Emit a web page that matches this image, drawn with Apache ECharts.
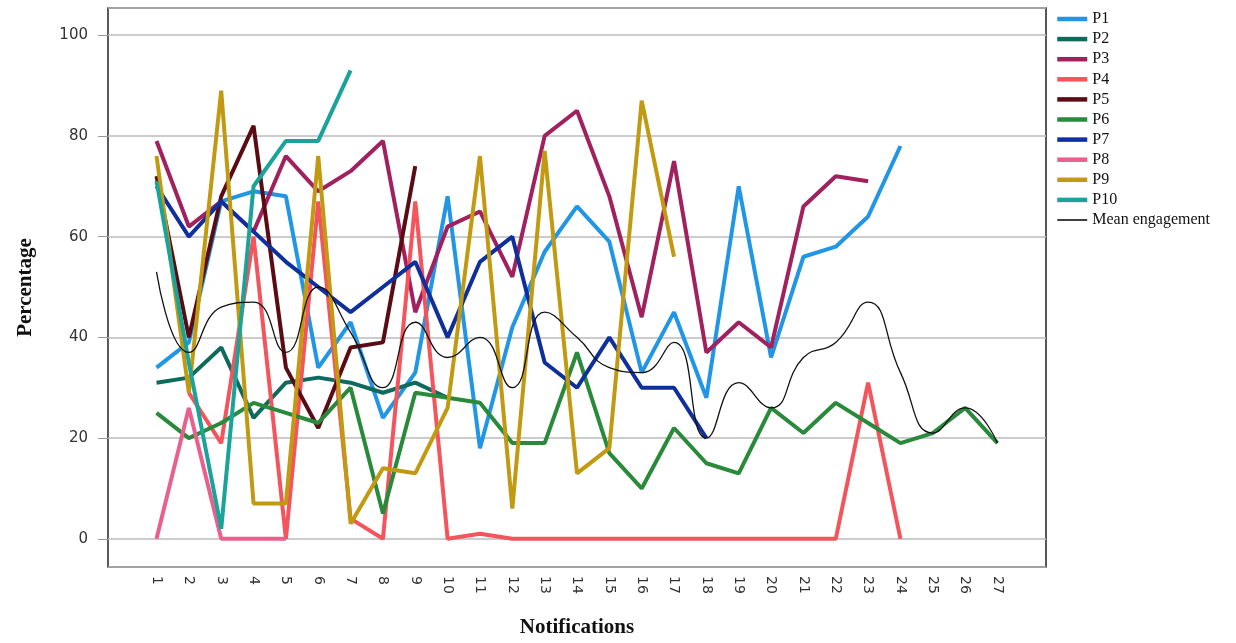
<!DOCTYPE html>
<html>
<head>
<meta charset="utf-8">
<script src="https://cdn.jsdelivr.net/npm/echarts@6/dist/echarts.min.js"></script>
<style>
html,body{margin:0;padding:0;background:#fff;}
#chart{width:1236px;height:643px;}
</style>
</head>
<body>
<div id="chart"></div>
<script>
// Categories (notification numbers)
const categories = ['1','2','3','4','5','6','7','8','9','10','11','12','13','14','15','16','17','18','19','20','21','22','23','24','25','26','27'];
const yTicks = [0, 20, 40, 60, 80, 100];

const P1 = [34,39,67,69,68,34,43,24,33,68,18,42,57,66,59,33,45,28,70,36,56,58,64,78,null,null,null];
const P2 = [31,32,38,24,31,32,31,29,31,28,null,null,null,null,null,null,null,null,null,null,null,null,null,null,null,null,null];
const P3 = [79,62,67,61,76,69,73,79,45,62,65,52,80,85,68,44,75,37,43,38,66,72,71,null,null,null,null];
const P4 = [null,29,19,60,0,67,4,0,67,0,1,0,0,0,0,0,0,0,0,0,0,0,31,0,null,null,null];
const P5 = [72,40,68,82,34,22,38,39,74,null,null,null,null,null,null,null,null,null,null,null,null,null,null,null,null,null,null];
const P6 = [25,20,23,27,25,23,30,5,29,28,27,19,19,37,17,10,22,15,13,26,21,27,23,19,21,26,19];
const P7 = [70,60,67,61,55,50,45,50,55,40,55,60,35,30,40,30,30,20,null,null,null,null,null,null,null,null,null];
const P8 = [0,26,0,0,0,null,null,null,null,null,null,null,null,null,null,null,null,null,null,null,null,null,null,null,null,null,null];
const P9 = [76,29,89,7,7,76,3,14,13,26,76,6,77,13,18,87,56,null,null,null,null,null,null,null,null,null,null];
const P10 = [71,35,2,70,79,79,93,null,null,null,null,null,null,null,null,null,null,null,null,null,null,null,null,null,null,null,null];
const meanEngagement = [53,37,46,47,37,50,41,30,43,36,40,30,45,40,34,33,39,20,31,26,36,39,47,33,21,26,19];

const seriesDefs = [
  {name:'P1', data:P1, color:'#2196e6'},
  {name:'P2', data:P2, color:'#0e6a5d'},
  {name:'P3', data:P3, color:'#a0215d'},
  {name:'P4', data:P4, color:'#f4555c'},
  {name:'P5', data:P5, color:'#5a0b14'},
  {name:'P6', data:P6, color:'#2a8a3c'},
  {name:'P7', data:P7, color:'#0f309c'},
  {name:'P8', data:P8, color:'#ea5f8e'},
  {name:'P9', data:P9, color:'#c19a12'},
  {name:'P10', data:P10, color:'#19a39a'}
];

// pad category axis with blank slots on both sides
const axisCats = [''].concat(categories, ['']);
const pad = arr => [null].concat(arr, [null]);

const series = seriesDefs.map(s => ({
  name: s.name,
  type: 'line',
  data: pad(s.data),
  symbol: 'none',
  connectNulls: false,
  lineStyle: {width: 4, color: s.color},
  itemStyle: {color: s.color},
  emphasis: {disabled: true}
}));
series.push({
  name: 'Mean engagement',
  type: 'line',
  data: pad(meanEngagement),
  symbol: 'none',
  smooth: 0.5,
  lineStyle: {width: 1.3, color: '#111'},
  itemStyle: {color: '#111'},
  z: 3
});

const legendData = seriesDefs.map(s => ({name: s.name, lineStyle: {width: 4.5, color: s.color}}))
  .concat([{name: 'Mean engagement', lineStyle: {width: 1.6, color: '#111'}}]);

const chart = echarts.init(document.getElementById('chart'), null, {renderer: 'canvas'});
chart.setOption({
  animation: false,
  backgroundColor: '#fff',
  grid: {left: 108, right: 190, top: 8, bottom: 74, show: true, borderColor: '#222', borderWidth: 1.5, backgroundColor: 'transparent'},
  legend: {
    orient: 'vertical',
    left: 1050,
    top: 6,
    itemWidth: 30,
    itemHeight: 14,
    itemGap: 4.1,
    itemStyle: {opacity: 0, borderWidth: 0},
    textStyle: {fontFamily: 'Liberation Serif', fontSize: 16, lineHeight: 14, color: '#111'},
    data: legendData
  },
  xAxis: {
    type: 'category',
    data: axisCats,
    boundaryGap: true,
    axisLine: {show: false},
    axisTick: {show: false},
    axisLabel: {rotate: -90, margin: 9, fontSize: 14, color: '#333', fontFamily: 'DejaVu Sans', interval: 0},
    splitLine: {show: false},
    name: 'Notifications',
    nameLocation: 'middle',
    nameGap: 50,
    nameTextStyle: {fontFamily: 'Liberation Serif', fontWeight: 'bold', fontSize: 21, color: '#111'}
  },
  yAxis: {
    type: 'value',
    min: -5.6,
    max: 105.4,
    splitNumber: 5,
    axisLine: {show: false},
    axisTick: {show: true, length: 10, lineStyle: {color: '#999'}},
    axisLabel: {
      margin: 20, fontSize: 15, color: '#333', fontFamily: 'DejaVu Sans',
      showMinLabel: false, showMaxLabel: false,
      formatter: v => (yTicks.indexOf(Math.round(v*1000)/1000) >= 0 ? String(v) : '')
    },
    splitLine: {show: true, lineStyle: {color: '#bbb', width: 1.5}},
    name: 'Percentage',
    nameLocation: 'middle',
    nameGap: 72,
    nameRotate: 90,
    nameTextStyle: {fontFamily: 'Liberation Serif', fontWeight: 'bold', fontSize: 21, color: '#111'}
  },
  series: series
});
</script>
</body>
</html>
